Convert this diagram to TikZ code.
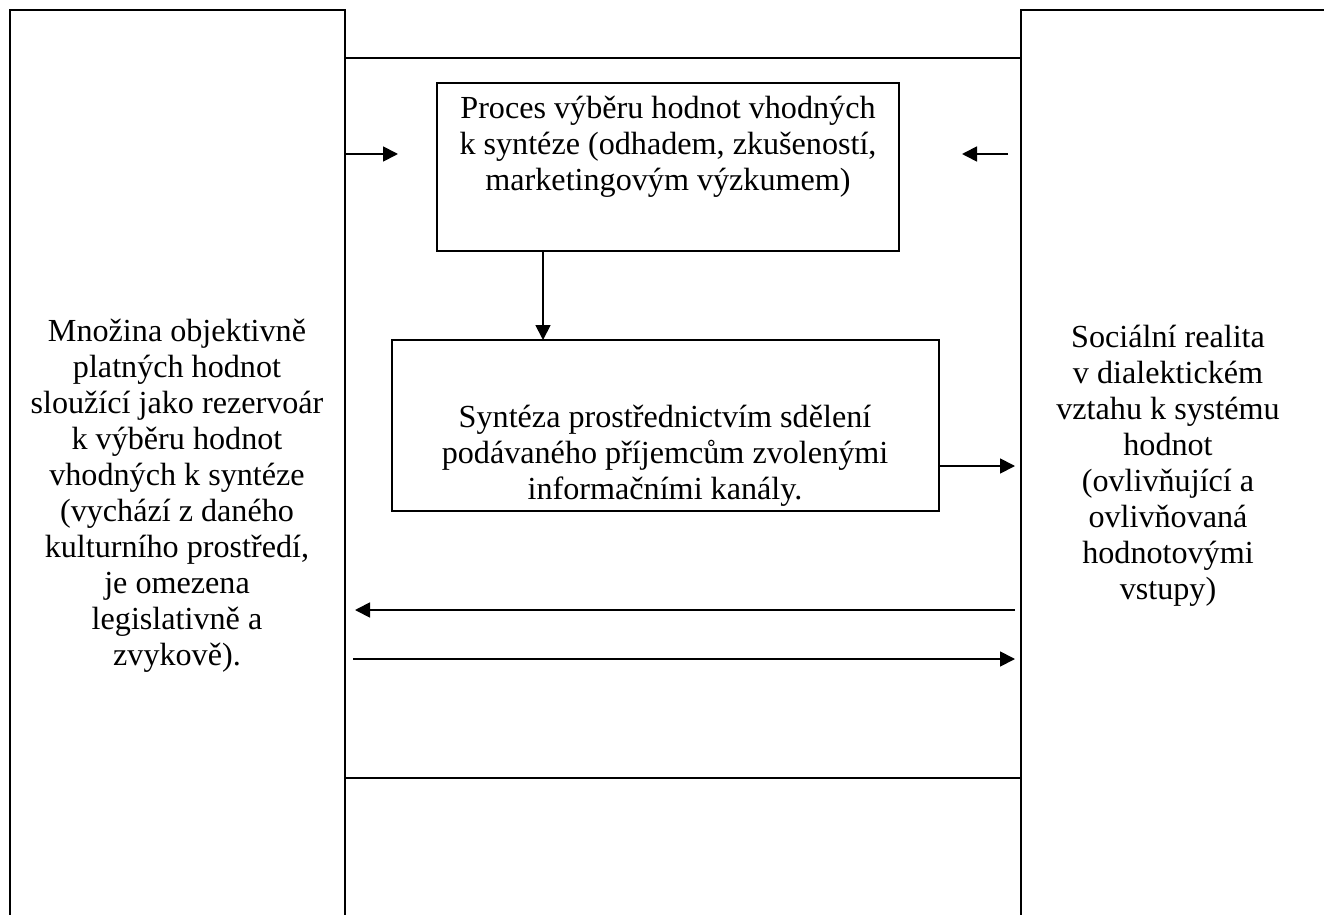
\documentclass[tikz,border=0pt]{standalone}
\usepackage{fontspec}
\setmainfont{Liberation Serif}
\usetikzlibrary{arrows.meta}

\begin{document}
\begin{tikzpicture}[
  x=0.02cm, y=-0.02cm,
  line width=1pt,
  every node/.style={inner sep=0pt, outer sep=0pt},
  frame/.style={draw, rectangle},
  txt/.style={align=center, font=\fontsize{18.3}{20.5}\selectfont},
  arr/.style={-{Triangle[length=0.3cm, width=0.3cm]}}
]
\useasboundingbox (0,0) rectangle (1324,915);
% columns and middle field
\node[frame, minimum width=6.7cm, minimum height=18.6cm] (mnozina) at (177.5,475) {};
\node[frame, minimum width=6.78cm, minimum height=18.6cm] (realita) at (1190.5,475) {};
\node[frame, minimum width=13.52cm, minimum height=14.4cm] (stred) at (683,418) {};
% inner boxes
\node[frame, minimum width=9.24cm, minimum height=3.36cm] (proces) at (668,167) {};
\node[frame, minimum width=10.94cm, minimum height=3.42cm] (synteza) at (665.5,425.5) {};

\node[txt] (mnozinatxt) at (177,496) {Množina objektivně\\ platných hodnot\\ sloužící jako rezervoár\\ k výběru hodnot\\ vhodných k syntéze\\ (vychází z daného\\ kulturního prostředí,\\ je omezena\\ legislativně a\\ zvykově).};
\node[txt] (realitatxt) at (1168,466) {Sociální realita\\ v dialektickém\\ vztahu k systému\\ hodnot\\ (ovlivňující a\\ ovlivňovaná\\ hodnotovými\\ vstupy)};
\node[txt] (procestxt) at (668,147) {Proces výběru hodnot vhodných\\ k syntéze (odhadem, zkušeností,\\ marketingovým výzkumem)};
\node[txt] (syntezatxt) at (665,456) {Syntéza prostřednictvím sdělení\\ podávaného příjemcům zvolenými\\ informačními kanály.};

% arrow ends
\coordinate (vx) at (543,0);
\coordinate (inL) at (398,154);
\coordinate (inRs) at (1008,154);
\coordinate (inR) at (962,154);
\coordinate (outS) at (1015,466);
\coordinate (zpetS) at (1015,610);
\coordinate (zpetE) at (355,610);
\coordinate (tamS) at (353,659);
\coordinate (tamE) at (1015,659);

\draw[arr] (mnozina.east |- inL) -- (inL);
\draw[arr] (inRs) -- (inR);
\draw[arr] (proces.south -| vx) -- (synteza.north -| vx);
\draw[arr] (synteza.east |- outS) -- (outS);
\draw[arr] (zpetS) -- (zpetE);
\draw[arr] (tamS) -- (tamE);
\end{tikzpicture}
\end{document}
